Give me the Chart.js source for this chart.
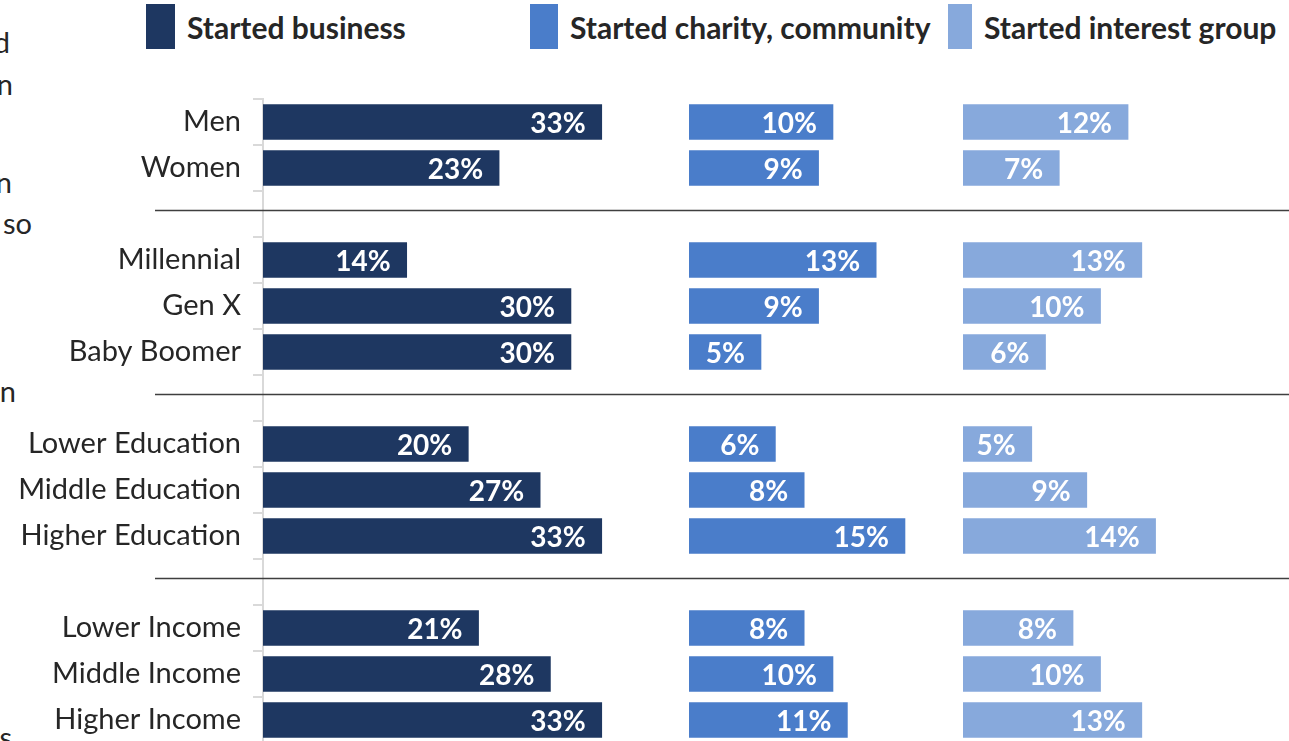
<!DOCTYPE html>
<html lang="en">
<head>
<meta charset="UTF-8">
<title>Started business, charity, interest group</title>
<script src="https://cdn.jsdelivr.net/npm/chart.js"></script>
<style>
  html, body { margin: 0; padding: 0; background: #fff; overflow: hidden; }
  body { font-family: Lato, Arial, sans-serif; color: #262626; }
  .wrap { position: relative; width: 1289px; height: 741px; overflow: hidden; }
  #chart { position: absolute; left: 0; top: 0; }
  .legend-item { position: absolute; top: 4px; height: 45px; display: flex; align-items: center; font-weight: bold; font-size: 30px; white-space: nowrap; }
  .legend-item .box { display: inline-block; height: 45px; margin-right: 12px; }
  .frag { position: absolute; font-size: 29px; line-height: 1; white-space: nowrap; }
</style>
</head>
<body>
<div class="wrap">
  <!-- cut-off paragraph text on the left edge -->
  <div class="frag" style="right:1279px; top:27px">d</div>
  <div class="frag" style="right:1276px; top:69px">n</div>
  <div class="frag" style="right:1277px; top:167px">n</div>
  <div class="frag" style="right:1257px; top:208px">so</div>
  <div class="frag" style="right:1273px; top:376px">n</div>
  <div class="frag" style="right:1277px; top:722px">s</div>

  <div id="legend"></div>
  <canvas id="chart" width="1289" height="743"></canvas>
</div>

<script>
const categories = ['Men', 'Women', '', 'Millennial', 'Gen X', 'Baby Boomer', '',
  'Lower Education', 'Middle Education', 'Higher Education', '',
  'Lower Income', 'Middle Income', 'Higher Income'];
const startedBusiness = [33, 23, null, 14, 30, 30, null, 20, 27, 33, null, 21, 28, 33];
const startedCharity  = [10, 9, null, 13, 9, 5, null, 6, 8, 15, null, 8, 10, 11];
const startedInterest = [12, 7, null, 13, 10, 6, null, 5, 9, 14, null, 8, 10, 13];
const seriesNames = ['Started business', 'Started charity, community', 'Started interest group'];

const colors = ['#1e3761', '#4a7dca', '#87a9dc'];

// legend (html, spacing is uneven in the original)
const legendPos = [{ left: 146, box: 29 }, { left: 530, box: 28 }, { left: 948, box: 24 }];
seriesNames.forEach((name, i) => {
  const item = document.createElement('div');
  item.className = 'legend-item';
  item.style.left = legendPos[i].left + 'px';
  item.innerHTML = '<span class="box" style="width:' + legendPos[i].box + 'px;background:' + colors[i] + '"></span>' + name;
  document.getElementById('legend').appendChild(item);
});

// horizontal rules through the empty rows
const separators = {
  id: 'separators',
  afterDraw(chart) {
    const ctx = chart.ctx, y = chart.scales.y;
    ctx.save();
    ctx.strokeStyle = '#3f3f3f';
    ctx.lineWidth = 1.5;
    ctx.beginPath();
    categories.forEach((c, i) => {
      if (c !== '') return;
      const py = Math.round(y.getPixelForValue(i)) - 3.5;
      ctx.moveTo(155, py);
      ctx.lineTo(chart.width, py);
    });
    ctx.stroke();
    ctx.restore();
  }
};

// white % labels inside the bar ends
const barLabels = {
  id: 'barLabels',
  afterDatasetsDraw(chart) {
    const ctx = chart.ctx;
    ctx.save();
    ctx.font = 'bold 28px Lato';
    ctx.fillStyle = '#ffffff';
    ctx.textAlign = 'right';
    ctx.textBaseline = 'middle';
    chart.data.datasets.forEach((ds, i) => {
      chart.getDatasetMeta(i).data.forEach((bar, j) => {
        const v = ds.data[j];
        if (v == null) return;
        ctx.fillText(v + '%', bar.x - 16, bar.y + 2);
      });
    });
    ctx.restore();
  }
};

const hiddenX = (weight, max) => ({
  type: 'linear', position: 'bottom', stack: 'panels', stackWeight: weight,
  min: 0, max: max, display: false,
  grid: { display: false }, ticks: { display: false },
  afterFit: s => { s.height = 0; }
});

new Chart(document.getElementById('chart'), {
  type: 'bar',
  data: {
    labels: categories,
    datasets: [
      { label: seriesNames[0], data: startedBusiness, xAxisID: 'x1', backgroundColor: colors[0] },
      { label: seriesNames[1], data: startedCharity, xAxisID: 'x2', backgroundColor: colors[1] },
      { label: seriesNames[2], data: startedInterest, xAxisID: 'x3', backgroundColor: colors[2] }
    ]
  },
  options: {
    indexAxis: 'y',
    responsive: false,
    animation: false,
    layout: { padding: { top: 99, right: 0, bottom: 0, left: 0 } },
    datasets: { bar: { grouped: false, barThickness: 35 } },
    plugins: { legend: { display: false }, tooltip: { enabled: false } },
    scales: {
      // three panels side by side, each with its own scale
      x1: hiddenX(426, 41.5),
      x2: hiddenX(274, 19.03),
      x3: hiddenX(326, 23.7),
      y: {
        type: 'category',
        position: 'left',
        offset: true,
        grid: { offset: true, drawOnChartArea: false, drawTicks: true, tickLength: 10, color: '#d9d9d9', lineWidth: 2 },
        border: { color: '#d9d9d9', width: 2 },
        ticks: { autoSkip: false, padding: 12, color: '#262626', font: { family: 'Lato', size: 29 } },
        afterFit: s => {
          s.width = 263;
          // no extra room for half labels, rows run to the bottom edge
          s.paddingTop = 0;
          s.paddingBottom = 0;
        }
      }
    }
  },
  plugins: [separators, barLabels]
});
</script>
</body>
</html>
